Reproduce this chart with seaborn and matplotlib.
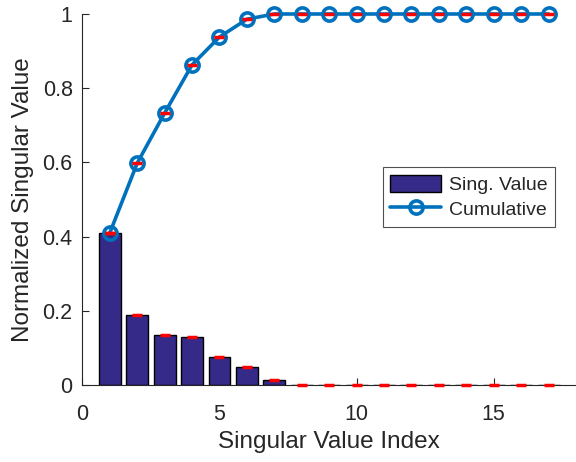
import numpy as np
import pandas as pd
import matplotlib
matplotlib.use("Agg")
import matplotlib.pyplot as plt
import seaborn as sns

index = list(range(1, 18))
sing_value = [0.410, 0.188, 0.135, 0.130, 0.075, 0.048, 0.014, 0.001,
              0.0, 0.0, 0.0, 0.0, 0.0, 0.0, 0.0, 0.0, 0.0]
cumulative = [0.410, 0.598, 0.733, 0.863, 0.938, 0.986, 1.000, 1.000,
              1.000, 1.000, 1.000, 1.000, 1.000, 1.000, 1.000, 1.000, 1.000]
x_ticks = [0, 5, 10, 15]
y_ticks = [0, 0.2, 0.4, 0.6, 0.8, 1]
y_tick_labels = ["0", "0.2", "0.4", "0.6", "0.8", "1"]

sns.set_theme(style="white")
plt.rcParams['font.family'] = ['Liberation Sans', 'DejaVu Sans']

df = pd.DataFrame({"idx": index, "sv": sing_value, "cum": cumulative})

fig = plt.figure(figsize=(5.76, 4.62), dpi=100)
ax = fig.add_axes([0.143, 0.1667, 0.857, 0.803])

sns.barplot(data=df, x="idx", y="sv", native_scale=True, width=0.8,
            color="#352A87", saturation=1, edgecolor="black", linewidth=1.0,
            errorbar=None, ax=ax, label="Sing. Value", zorder=2)
sns.lineplot(data=df, x="idx", y="cum", color="#0072BD", linewidth=2.6,
             marker="o", markersize=9.5, markerfacecolor="none",
             markeredgecolor="#0072BD", markeredgewidth=2.6, ax=ax,
             label="Cumulative", zorder=4, clip_on=False)
ax.plot(df["idx"], df["sv"], linestyle="none", marker="_", markersize=7,
        markeredgewidth=2.5, color="red", zorder=5, clip_on=False)
ax.plot(df["idx"], df["cum"], linestyle="none", marker="_", markersize=7,
        markeredgewidth=2.5, color="red", zorder=5, clip_on=False)

ax.set_xlim(0, 18)
ax.set_ylim(0, 1)
ax.set_xticks(x_ticks)
ax.set_yticks(y_ticks)
ax.set_yticklabels(y_tick_labels)
ax.tick_params(axis="both", direction="in", length=5, width=0.8,
               color="#262626", labelsize=15.5, labelcolor="#262626",
               left=True, bottom=True)
ax.tick_params(axis="y", pad=7)
ax.tick_params(axis="x", pad=14)
for s in ["top", "right"]:
    ax.spines[s].set_visible(False)
for s in ["left", "bottom"]:
    ax.spines[s].set_color("#262626")
    ax.spines[s].set_linewidth(0.8)
ax.set_xlabel("Singular Value Index", fontsize=17.5, color="#262626", labelpad=4)
ax.set_ylabel("Normalized Singular Value", fontsize=17.5, color="#262626", labelpad=6)

handles, labels = ax.get_legend_handles_labels()
order = [labels.index("Sing. Value"), labels.index("Cumulative")]
leg = ax.legend([handles[i] for i in order], [labels[i] for i in order],
                loc="center", bbox_to_anchor=(0.783, 0.507), fontsize=14,
                frameon=True, fancybox=False, edgecolor="#262626",
                handlelength=2.6, handleheight=1.0, borderpad=0.4,
                labelspacing=0.3, handletextpad=0.4, borderaxespad=0)
leg.get_frame().set_linewidth(0.8)

fig.savefig("out.png", dpi=100)
